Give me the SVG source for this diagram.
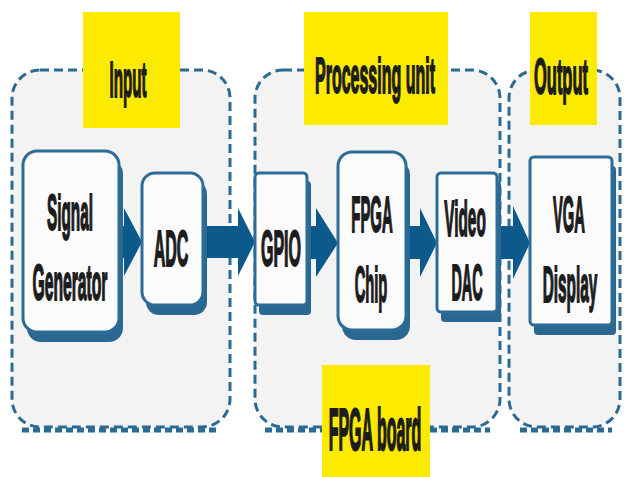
<svg xmlns="http://www.w3.org/2000/svg" width="625" height="477" viewBox="0 0 625 477">
<defs>
<style>
.grp{fill:#f3f3f4;stroke:#2b6a93;stroke-width:3;stroke-dasharray:9 5}
.grpsh{fill:none;stroke:#2b6a93;stroke-width:5;stroke-dasharray:7 4}
.node{fill:#fbfbfc;stroke:#2d6c96;stroke-width:3}
.nsh{fill:#2a6892}
.lbl{fill:#fcea00}
.t{font-family:"Liberation Sans",Arial,sans-serif;font-weight:bold;font-size:16px;fill:#1c1c1c;stroke:#1c1c1c;stroke-width:0.6;text-anchor:middle}
.arr{fill:#0b5a8b}
</style>
</defs>
<rect width="625" height="477" fill="#ffffff"/>

<g id="group-input">
<path class="grpsh" d="M22 430 H218"/>
<rect class="grp" x="12" y="70" width="218" height="357" rx="28"/>
</g>
<g id="group-processing">
<path class="grpsh" d="M265 430 H490"/>
<rect class="grp" x="255" y="70" width="245" height="357" rx="28"/>
</g>
<g id="group-output">
<path class="grpsh" d="M520 430 H612"/>
<rect class="grp" x="509" y="70" width="111" height="357" rx="28"/>
</g>

<g id="label-input">
<rect class="lbl" x="83" y="12" width="97" height="116"/>
<text class="t" transform="translate(128,97) scale(0.95,3.1)">Input</text>
</g>
<g id="label-processing">
<rect class="lbl" x="304" y="12" width="144" height="113"/>
<text class="t" transform="translate(375,93) scale(1,3.1)">Processing unit</text>
</g>
<g id="label-output">
<rect class="lbl" x="530" y="12" width="67" height="113"/>
<text class="t" transform="translate(561,94) scale(1.03,3.1)">Output</text>
</g>
<g id="label-fpga-board">
<rect class="lbl" x="322" y="365" width="108" height="112"/>
<text class="t" transform="translate(375,450) scale(1,3.7)">FPGA board</text>
</g>

<g id="connectors">
<path class="arr" d="M118 226 H124 V208 L142 242 L124 276 V258 H118 Z"/>
<path class="arr" d="M202 226 H238 V208 L255 242 L238 276 V258 H202 Z"/>
<path class="arr" d="M306 226 H316 V208 L338 243 L316 277 V259 H306 Z"/>
<path class="arr" d="M405 226 H420 V208 L437 243 L420 277 V259 H405 Z"/>
<path class="arr" d="M496 226 H513 V206 L530 243 L513 279 V259 H496 Z"/>
</g>

<g id="node-signal-generator">
<rect class="nsh" x="27" y="160" width="96" height="182" rx="14"/>
<rect class="node" x="23" y="151" width="96" height="181" rx="14"/>
<text class="t" transform="translate(70,230) scale(0.96,3.1)">Signal</text>
<text class="t" transform="translate(70,300) scale(0.98,3.1)">Generator</text>
</g>
<g id="node-adc">
<rect class="nsh" x="146" y="181" width="61" height="134" rx="13"/>
<rect class="node" x="142" y="173" width="61" height="132" rx="13"/>
<text class="t" transform="translate(171,266) scale(1,3.1)">ADC</text>
</g>
<g id="node-gpio">
<rect class="nsh" x="259" y="181" width="52" height="134" rx="4"/>
<rect class="node" x="255" y="173" width="52" height="132" rx="4"/>
<text class="t" transform="translate(281,266) scale(1,3.1)">GPIO</text>
</g>
<g id="node-fpga-chip">
<rect class="nsh" x="342" y="161" width="68" height="179" rx="14"/>
<rect class="node" x="338" y="152" width="68" height="178" rx="14"/>
<text class="t" transform="translate(372,232) scale(0.93,3.1)">FPGA</text>
<text class="t" transform="translate(371,302) scale(0.92,3.1)">Chip</text>
</g>
<g id="node-video-dac">
<rect class="nsh" x="441" y="181" width="60" height="141" rx="4"/>
<rect class="node" x="437" y="173" width="60" height="139" rx="4"/>
<text class="t" transform="translate(465,236) scale(0.96,3.1)">Video</text>
<text class="t" transform="translate(467,300) scale(0.9,3.1)">DAC</text>
</g>
<g id="node-vga-display">
<rect class="nsh" x="534" y="166" width="82" height="169" rx="4"/>
<rect class="node" x="530" y="157" width="82" height="168" rx="4"/>
<text class="t" transform="translate(569,232) scale(0.92,3.1)">VGA</text>
<text class="t" transform="translate(570,302) scale(0.96,3.1)">Display</text>
</g>
</svg>
